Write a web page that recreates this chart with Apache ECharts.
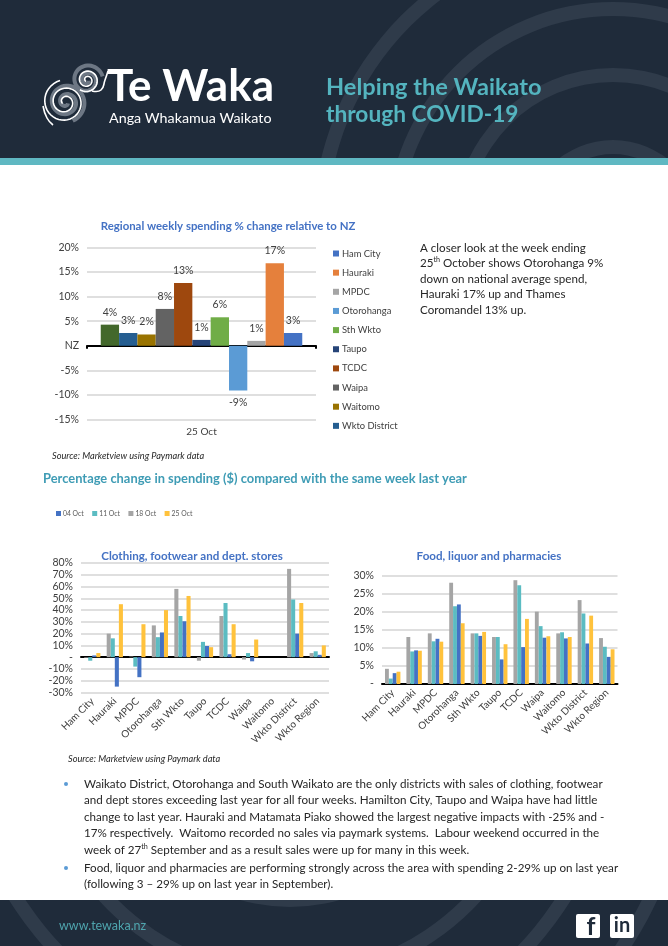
<!DOCTYPE html>
<html>
<head>
<meta charset="utf-8">
<title>Te Waka - Helping the Waikato through COVID-19</title>
<script src="https://cdn.jsdelivr.net/npm/echarts@6/dist/echarts.min.js"></script>
<style>
  html, body { margin: 0; padding: 0; background: #fff; }
  #page { width: 668px; height: 946px; }
</style>
</head>
<body>
<div id="page"></div>
<script>
// Regional weekly spending, 25 Oct (bars run in reverse legend order)
const relativeNames = ['Wkto Region', 'Wkto District', 'Waitomo', 'Waipa', 'TCDC', 'Taupo', 'Sth Wkto', 'Otorohanga', 'MPDC', 'Hauraki', 'Ham City'];
const relativeValues = [4.3, 2.6, 2.3, 7.5, 12.8, 1.2, 5.8, -9.1, 1.0, 16.8, 2.6];
const relativeColors = ['#43682b', '#255e91', '#997300', '#636363', '#9e480e', '#264478', '#70ad47', '#5b9bd5', '#a5a5a5', '#e5803c', '#4472c4'];
const relativeLegend = ['Ham City', 'Hauraki', 'MPDC', 'Otorohanga', 'Sth Wkto', 'Taupo', 'TCDC', 'Waipa', 'Waitomo', 'Wkto District'];

// Same week last year comparison
const districts = ['Ham City', 'Hauraki', 'MPDC', 'Otorohanga', 'Sth Wkto', 'Taupo', 'TCDC', 'Waipa', 'Waitomo', 'Wkto District', 'Wkto Region'];
const weekLegend = ['04 Oct', '11 Oct', '18 Oct', '25 Oct'];
const weekOrder = ['18 Oct', '11 Oct', '04 Oct', '25 Oct'];
const weekColors = { '04 Oct': '#4472c4', '11 Oct': '#5bbcc2', '18 Oct': '#a5a5a5', '25 Oct': '#ffc23c' };

const clothing18 = [-0.5, 20, 0.5, 27, 58, -3, 35, -2, 0, 75, 3.5];
const clothing11 = [-3, 16, -8, 17, 35, 13, 46, 3.5, 0, 49, 5];
const clothing04 = [1.5, -25, -17, 21, 30.5, 9.5, 2.5, -3.5, 0, 20, 2];
const clothing25 = [3.5, 45, 28, 40, 52, 8.5, 28, 15, 0, 46, 10];

const food18 = [4.2, 13, 14, 28, 14, 13, 28.7, 20, 14, 23.2, 12.7];
const food11 = [1.5, 9, 11.8, 21.5, 14, 13, 27.3, 16, 14.3, 19.5, 10.3];
const food04 = [3, 9.3, 12.5, 22, 13.3, 6.8, 10.2, 12.8, 12.6, 11.2, 7.5];
const food25 = [3.4, 9.2, 11.7, 16.8, 14.4, 11, 18, 13.2, 13, 18.9, 9.6];

const closerLook = [
    'A closer look at the week ending',
    '25{sup|th} October shows Otorohanga 9%',
    'down on national average spend,',
    'Hauraki 17% up and Thames',
    'Coromandel 13% up.'
];
const bulletOne = [
    'Waikato District, Otorohanga and South Waikato are the only districts with sales of clothing, footwear',
    'and dept stores exceeding last year for all four weeks. Hamilton City, Taupo and Waipa have had little',
    'change to last year. Hauraki and Matamata Piako showed the largest negative impacts with -25% and -',
    '17% respectively.  Waitomo recorded no sales via paymark systems.  Labour weekend occurred in the',
    'week of 27{sup|th} September and as a result sales were up for many in this week.'
];
const bulletTwo = [
    'Food, liquor and pharmacies are performing strongly across the area with spending 2-29% up on last year',
    '(following 3 \u2013 29% up on last year in September).'
];

const FONT = 'Lato, sans-serif';
const NAVY = '#1f2b3a';
const ARC = '#2f3b4a';
const TEAL = '#54b4bf';
const INK = '#404040';
const GRIDLINE = { show: true, lineStyle: { color: '#dfdfdf', width: 2 } };

const chart = echarts.init(document.getElementById('page'));

// Plain text helper for the page furniture
function label(text, x, y, size, fill, extra) {
    return {
        type: 'text',
        style: Object.assign({
            text: text, x: x, y: y, fill: fill,
            font: (extra && extra.weight || 'normal') + ' ' + size + 'px ' + FONT,
            align: extra && extra.align || 'left',
            verticalAlign: 'middle',
            rich: { sup: { fontSize: size * 0.62, fontFamily: FONT, fill: fill, verticalAlign: 'top', lineHeight: size * 1.2 } }
        }, extra && extra.style),
        silent: true
    };
}

function ring(cx, cy, r) {
    return { type: 'ring', shape: { cx: cx, cy: cy, r: r, r0: r - 14 }, style: { fill: ARC }, silent: true };
}

// Logo swirl
function spiral(cx, cy, rx, ry, turns, start, stroke, width) {
    const points = [];
    for (let i = 0; i <= 90; i++) {
        const t = i / 90;
        const a = start + t * turns * Math.PI * 2;
        points.push([cx + Math.cos(a) * rx * (0.12 + t * 0.88), cy + Math.sin(a) * ry * (0.12 + t * 0.88)]);
    }
    return { type: 'polyline', shape: { points: points, smooth: 0 }, style: { stroke: stroke, lineWidth: width, fill: null }, silent: true };
}

function logoLine(points) {
    return { type: 'polyline', shape: { points: points, smooth: 0.5 }, style: { stroke: '#fff', lineWidth: 1.6, fill: null }, silent: true };
}

function pageGraphics() {
    const g = [];
    g.push({ type: 'rect', shape: { x: 0, y: 0, width: 668, height: 158 }, style: { fill: NAVY }, silent: true });
    g.push({
        type: 'group',
        clipPath: { type: 'rect', shape: { x: 0, y: 0, width: 668, height: 158 } },
        children: [300, 226, 160, 88].map(r => ring(613, 228, r))
    });
    g.push({ type: 'rect', shape: { x: 0, y: 158, width: 668, height: 7 }, style: { fill: '#5fb8c2' }, silent: true });

    g.push(spiral(66, 102, 20, 20, 2.1, 0.6, '#6d7784', 4));
    g.push(spiral(65, 102, 22, 22, 2.3, 2.6, '#ffffff', 1.6));
    g.push(spiral(87, 80, 16, 16, 1.9, 0.4, '#6d7784', 4));
    g.push(spiral(87, 80, 12, 12, 2.0, 2.2, '#ffffff', 1.6));
    g.push(logoLine([[43, 106], [47, 118], [53, 125]]));
    g.push(logoLine([[92, 91], [101, 90], [105, 80], [108, 71]]));

    g.push(label('Te Waka', 107, 87, 44, '#ffffff', { weight: 'bold' }));
    g.push(label('Anga Whakamua Waikato', 109, 118, 14.3, '#ffffff'));
    g.push(label('Helping the Waikato', 326, 87, 23.6, TEAL, { weight: 'bold' }));
    g.push(label('through COVID-19', 326, 115, 22.7, TEAL, { weight: 'bold' }));

    g.push(label('Source: Marketview using Paymark data', 52, 456, 9.2, '#262626', { style: { font: 'italic 9.2px ' + FONT } }));
    g.push(label('Percentage change in spending ($) compared with the same week last year', 43, 479, 12.9, '#3f9cb5', { weight: 'bold' }));
    g.push(label('Source: Marketview using Paymark data', 68, 759, 9.2, '#262626', { style: { font: 'italic 9.2px ' + FONT } }));

    const closerY = [248, 263, 279, 294, 310];
    closerLook.forEach((line, i) => g.push(label(line, 420, closerY[i], 11.6, '#262626')));

    const bulletY = [784, 800.5, 817, 833.5, 850];
    bulletOne.forEach((line, i) => g.push(label(line, 84, bulletY[i], 11.63, '#262626')));
    const bullet2Y = [868, 884.5];
    bulletTwo.forEach((line, i) => g.push(label(line, 84, bullet2Y[i], 11.63, '#262626')));
    [784, 868].forEach(y => g.push({ type: 'circle', shape: { cx: 66, cy: y, r: 2 }, style: { fill: '#5b9bd5' }, silent: true }));

    // Footer
    g.push({ type: 'rect', shape: { x: 0, y: 900, width: 668, height: 46 }, style: { fill: NAVY }, silent: true });
    g.push({
        type: 'group',
        clipPath: { type: 'rect', shape: { x: 0, y: 900, width: 668, height: 46 } },
        children: [406, 330, 258, 180].map(r => ring(290, 727, r))
    });
    g.push(label('www.tewaka.nz', 59, 926, 12.5, '#4fa5ae'));
    g.push({ type: 'rect', shape: { x: 576, y: 914, width: 24, height: 24, r: 2 }, style: { fill: '#fff' }, silent: true });
    g.push({ type: 'rect', shape: { x: 610, y: 914, width: 24, height: 24, r: 2 }, style: { fill: '#fff' }, silent: true });
    g.push(label('f', 591, 927, 25, NAVY, { weight: 'bold', align: 'center' }));
    g.push(label('in', 622, 926, 20, NAVY, { weight: 'bold', align: 'center' }));
    return g;
}

// Each chart gets a plain axis for the labels and a second one for the zero line
function xAxisPair(gridIndex, data, labelOpts, zeroLine) {
    return [
        {
            type: 'category', gridIndex: gridIndex, data: data, position: 'bottom',
            axisLine: { show: false, onZero: false }, axisTick: { show: false },
            axisLabel: Object.assign({ color: INK, fontFamily: FONT, fontSize: 10, interval: 0 }, labelOpts)
        },
        {
            type: 'category', gridIndex: gridIndex, data: data, position: 'bottom',
            axisLine: { show: true, onZero: true, lineStyle: { color: '#000', width: 2 } },
            axisTick: zeroLine, axisLabel: { show: false }
        }
    ];
}

function yAxis(gridIndex, min, max, interval, zeroText) {
    return {
        type: 'value', gridIndex: gridIndex, min: min, max: max, interval: interval,
        axisLine: { show: false }, axisTick: { show: false },
        splitLine: GRIDLINE,
        axisLabel: {
            color: INK, fontFamily: FONT, fontSize: 10.5, margin: 8,
            formatter: v => (v === 0 ? zeroText : v + '%')
        }
    };
}

const relativeSeries = relativeNames.map((name, i) => ({
    name: name,
    type: 'bar',
    xAxisIndex: 0,
    yAxisIndex: 0,
    barGap: 0,
    barCategoryGap: '12%',
    itemStyle: { color: relativeColors[i] },
    label: {
        show: true, position: 'outside', distance: 7,
        color: INK, fontFamily: FONT, fontSize: 10.5,
        formatter: p => Math.round(p.value) + '%'
    },
    data: [relativeValues[i]]
}));

function weekSeries(gridAxis, values) {
    return weekOrder.map((week, i) => ({
        name: week,
        type: 'bar',
        xAxisIndex: gridAxis,
        yAxisIndex: gridAxis / 2,
        barGap: 0,
        barCategoryGap: '28%',
        itemStyle: { color: weekColors[week] },
        data: values[i]
    }));
}

const option = {
    animation: false,
    backgroundColor: '#fff',
    textStyle: { fontFamily: FONT },
    graphic: { elements: pageGraphics() },
    title: [
        { text: 'Regional weekly spending % change relative to NZ', left: 228, top: 221, textAlign: 'center', padding: 0,
          textStyle: { color: '#4472c4', fontFamily: FONT, fontWeight: 'bold', fontSize: 11.4 } },
        { text: 'Clothing, footwear and dept. stores', left: 192, top: 550, textAlign: 'center', padding: 0,
          textStyle: { color: '#4472c4', fontFamily: FONT, fontWeight: 'bold', fontSize: 11.6 } },
        { text: 'Food, liquor and pharmacies', left: 489, top: 550, textAlign: 'center', padding: 0,
          textStyle: { color: '#4472c4', fontFamily: FONT, fontWeight: 'bold', fontSize: 11.6 } }
    ],
    legend: [
        { orient: 'vertical', left: 333, top: 247.5, data: relativeLegend, icon: 'rect', itemWidth: 6, itemHeight: 6,
          itemGap: 7.15, padding: 0, selectedMode: false,
          textStyle: { color: INK, fontFamily: FONT, fontSize: 9.4, lineHeight: 12, padding: [0, 0, 0, -2] } },
        { orient: 'horizontal', left: 56, top: 510, data: weekLegend, icon: 'rect', itemWidth: 5, itemHeight: 5,
          itemGap: 8.5, padding: 0, selectedMode: false,
          textStyle: { color: '#595959', fontFamily: FONT, fontSize: 6.8, padding: [0, 0, 0, -3] } }
    ],
    grid: [
        { left: 87, top: 247.5, width: 229, height: 172 },
        { left: 81, top: 563, width: 248, height: 129.5 },
        { left: 382, top: 575.5, width: 235.5, height: 108.5 }
    ],
    xAxis: [].concat(
        xAxisPair(0, ['25 Oct'], { margin: 7 }, { show: true, length: 3, lineStyle: { color: '#000', width: 2 } }),
        xAxisPair(1, districts, { rotate: 45, margin: 7 }, { show: false }),
        xAxisPair(2, districts, { rotate: 45, margin: 7 }, { show: false })
    ),
    yAxis: [
        yAxis(0, -15, 20, 5, 'NZ'),
        yAxis(1, -30, 80, 10, '-'),
        yAxis(2, 0, 30, 5, '-')
    ],
    series: [].concat(
        relativeSeries,
        weekSeries(2, [clothing18, clothing11, clothing04, clothing25]),
        weekSeries(4, [food18, food11, food04, food25])
    )
};

chart.setOption(option);
</script>
</body>
</html>
